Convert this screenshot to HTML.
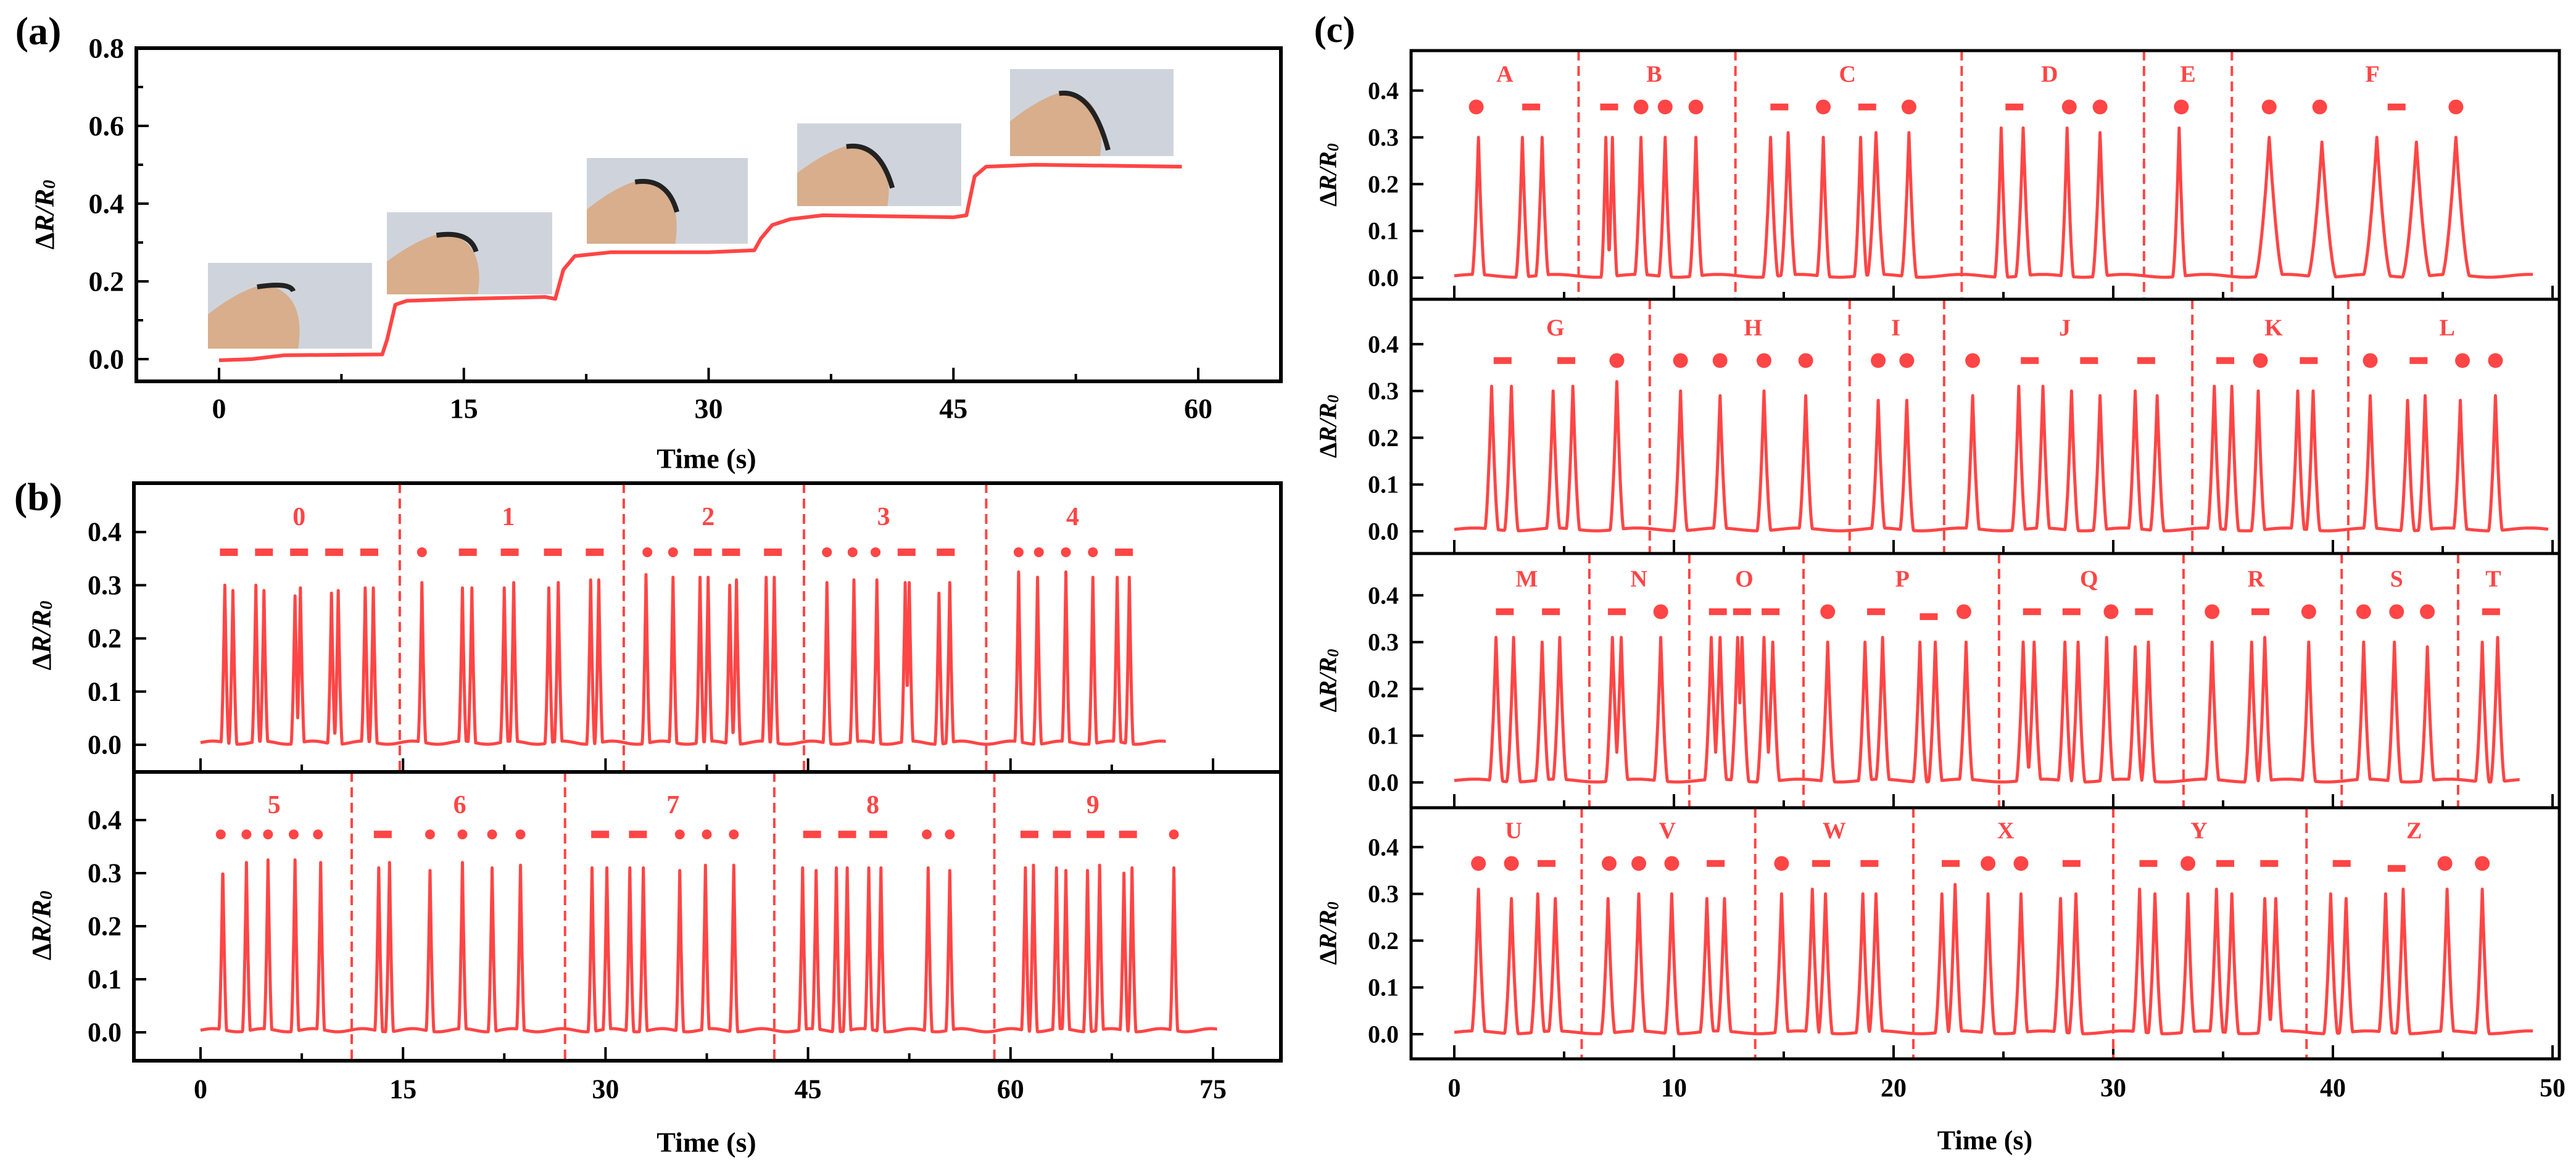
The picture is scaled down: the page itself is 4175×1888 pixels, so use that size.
<!DOCTYPE html>
<html><head><meta charset="utf-8">
<style>
html,body{margin:0;padding:0;background:#fff;}
svg{display:block;font-family:"Liberation Serif",serif;font-weight:bold;}
</style></head>
<body>
<svg id="fig" width="4175" height="1888" viewBox="0 0 4175 1888" xmlns="http://www.w3.org/2000/svg"></svg>
<script>
// ---------- Panel (a) data ----------
const aTimes = [0,2,4,10,10.3,10.8,11.5,15,20,20.6,21.1,21.8,24,30,32.8,33.2,33.9,35,37,45,45.8,46.3,47,50,59];
const aValues = [-0.003,0,0.01,0.012,0.05,0.14,0.15,0.155,0.16,0.155,0.23,0.265,0.275,0.275,0.28,0.31,0.345,0.36,0.37,0.365,0.37,0.47,0.495,0.5,0.495];
const aXTicks = [0,15,30,45,60];
const aYTicks = [0.0,0.2,0.4,0.6,0.8];

// ---------- Panel (b) data ----------
const bTopPeakTimes = [1.8,2.4,4.1,4.7,7.0,7.4,9.7,10.2,12.2,12.8,16.4,19.4,20.1,22.5,23.2,25.8,26.5,28.9,29.5,33.0,35.0,37.0,37.6,39.2,39.7,41.9,42.5,46.4,48.4,50.1,52.2,52.5,54.7,55.5,60.6,62.0,64.1,66.1,67.9,68.8];
const bTopPeakHeights = [0.30,0.29,0.30,0.29,0.28,0.295,0.285,0.29,0.295,0.295,0.305,0.295,0.295,0.295,0.305,0.295,0.305,0.31,0.31,0.32,0.315,0.315,0.315,0.30,0.31,0.315,0.315,0.305,0.31,0.31,0.305,0.305,0.285,0.305,0.325,0.315,0.325,0.315,0.315,0.315];
const bTopEnd = 71.5;
const bTopDividers = [14.76,31.35,44.7,58.2];
const bTopMarkTimes = [2.1,4.7,7.3,9.9,12.5,16.4,19.8,22.9,26.1,29.2,33.1,35.0,37.2,39.3,42.4,46.4,48.3,50.0,52.3,55.2,60.6,62.1,64.1,66.1,68.4];
const bTopMarkTypes = ['-','-','-','-','-','.','-','-','-','-','.','.','-','-','-','.','.','.','-','-','.','.','.','.','-'];
const bTopLabels = ['0','1','2','3','4'];
const bTopLabelTimes = [7.3,22.8,37.6,50.6,64.6];

const bBotPeakTimes = [1.65,3.4,5.0,7.0,8.9,13.2,14.0,17.0,19.4,21.6,23.7,29.0,30.1,31.8,32.8,35.5,37.4,39.5,44.6,45.6,47.1,47.9,49.5,50.4,53.9,55.5,61.1,61.7,63.4,64.1,65.7,66.6,68.4,69.0,72.1];
const bBotPeakHeights = [0.315,0.32,0.325,0.325,0.32,0.31,0.32,0.305,0.32,0.31,0.315,0.31,0.31,0.31,0.31,0.305,0.315,0.315,0.31,0.305,0.31,0.31,0.31,0.31,0.31,0.305,0.31,0.315,0.31,0.305,0.305,0.315,0.30,0.31,0.31];
const bBotEnd = 75.3;
const bBotDividers = [11.2,27.0,42.5,58.8];
const bBotMarkTimes = [1.5,3.4,5.0,6.9,8.7,13.5,17.0,19.4,21.6,23.7,29.6,32.4,35.5,37.5,39.5,45.3,47.9,50.2,53.8,55.5,61.4,63.8,66.3,68.7,72.1];
const bBotMarkTypes = ['.','.','.','.','.','-','.','.','.','.','-','-','.','.','.','-','-','-','.','.','-','-','-','-','.'];
const bBotLabels = ['5','6','7','8','9'];
const bBotLabelTimes = [5.45,19.2,35.0,49.8,66.1];
const bXTicks = [0,15,30,45,60,75];
const bYTicks = [0.0,0.1,0.2,0.3,0.4];

// ---------- Panel (c) data ----------
const c1PeakTimes = [1.1,3.1,4.0,6.9,7.2,8.5,9.6,11.0,14.4,15.2,16.8,18.5,19.2,20.7,24.9,25.9,27.9,29.4,33.0,37.1,39.5,42.0,43.8,45.6];
const c1PeakHeights = [0.30,0.30,0.30,0.30,0.30,0.30,0.30,0.30,0.30,0.31,0.30,0.30,0.31,0.31,0.32,0.32,0.32,0.31,0.32,0.30,0.29,0.30,0.29,0.30];
const c1PeakWidths = [0.3,0.3,0.3,0.22,0.22,0.3,0.3,0.3,0.35,0.35,0.3,0.3,0.4,0.35,0.3,0.35,0.3,0.35,0.3,0.65,0.65,0.65,0.65,0.65];
const c1End = 49.1;
const c1Dividers = [5.66,12.8,23.1,31.4,35.4];
const c1MarkTimes = [1.0,3.5,7.05,8.5,9.6,11.0,14.8,16.8,18.8,20.7,25.5,28.0,29.4,33.1,37.1,39.4,42.9,45.6];
const c1MarkTypes = ['.','-','-','.','.','.','-','.','-','.','-','.','.','.','.','.','-','.'];
const c1Labels = ['A','B','C','D','E','F'];
const c1LabelTimes = [2.3,9.1,17.9,27.1,33.4,41.8];

const c2PeakTimes = [1.7,2.6,4.5,5.4,7.4,10.3,12.1,14.1,16.0,19.3,20.6,23.6,25.7,26.8,28.1,29.4,31.0,32.0,34.6,35.4,36.6,38.4,39.1,41.7,43.4,44.2,45.8,47.4];
const c2PeakHeights = [0.31,0.31,0.30,0.31,0.32,0.30,0.29,0.30,0.29,0.28,0.28,0.29,0.31,0.31,0.30,0.29,0.30,0.29,0.31,0.31,0.30,0.30,0.30,0.29,0.28,0.29,0.28,0.29];
const c2End = 49.8;
const c2Dividers = [8.9,18.0,22.3,33.6,40.7];
const c2MarkTimes = [2.2,5.1,7.4,10.3,12.1,14.1,16.0,19.3,20.6,23.6,26.2,28.9,31.5,35.1,36.7,38.9,41.7,43.9,45.9,47.4];
const c2MarkTypes = ['-','-','.','.','.','.','.','.','.','.','-','-','-','-','.','-','.','-','.','.'];
const c2Labels = ['G','H','I','J','K','L'];
const c2LabelTimes = [4.6,13.6,20.1,27.8,37.3,45.2];

const c3PeakTimes = [1.9,2.7,4.0,4.8,7.2,7.6,9.4,11.7,12.1,12.9,13.1,14.1,14.5,17.0,18.7,19.5,21.2,21.9,23.3,25.9,26.4,27.8,28.4,29.7,31.0,31.6,34.5,36.3,36.9,38.9,41.4,42.8,44.3,46.8,47.5];
const c3PeakHeights = [0.31,0.31,0.30,0.31,0.31,0.31,0.31,0.31,0.31,0.31,0.31,0.31,0.30,0.30,0.30,0.31,0.30,0.30,0.30,0.30,0.30,0.30,0.30,0.31,0.29,0.30,0.30,0.30,0.31,0.30,0.30,0.30,0.29,0.30,0.31];
const c3End = 48.5;
const c3Dividers = [6.15,10.7,15.9,24.8,33.2,40.4,45.7];
const c3MarkTimes = [2.3,4.4,7.4,9.4,12.0,13.1,14.4,17.0,19.2,21.6,23.2,26.3,28.1,29.9,31.4,34.5,36.7,38.9,41.4,42.9,44.3,47.2];
const c3MarkTypes = ['-','-','-','.','-','-','-','.','-','_','.','-','-','.','-','.','-','.','.','.','.','-'];
const c3Labels = ['M','N','O','P','Q','R','S','T'];
const c3LabelTimes = [3.3,8.4,13.2,20.4,28.9,36.5,42.9,47.3];

const c4PeakTimes = [1.1,2.6,3.8,4.6,7.0,8.4,9.9,11.5,12.3,14.9,16.3,16.9,18.6,19.2,22.2,22.8,24.3,25.8,27.6,28.3,31.2,31.9,33.4,34.7,35.4,36.9,37.4,39.9,40.6,42.4,43.2,45.2,46.8];
const c4PeakHeights = [0.31,0.29,0.30,0.29,0.29,0.30,0.30,0.29,0.29,0.30,0.31,0.30,0.30,0.30,0.30,0.32,0.30,0.30,0.29,0.30,0.31,0.30,0.30,0.31,0.30,0.29,0.29,0.30,0.29,0.30,0.31,0.31,0.31];
const c4End = 49.1;
const c4Dividers = [5.8,13.7,20.9,30.0,38.8];
const c4MarkTimes = [1.1,2.6,4.2,7.05,8.4,9.9,11.9,14.9,16.7,18.9,22.6,24.3,25.8,28.1,31.6,33.4,35.1,37.1,40.4,42.9,45.1,46.8];
const c4MarkTypes = ['.','.','-','.','.','.','-','.','-','-','-','.','.','-','-','.','-','-','-','_','.','.'];
const c4Labels = ['U','V','W','X','Y','Z'];
const c4LabelTimes = [2.7,9.7,17.3,25.1,33.9,43.7];
const cXTicks = [0,10,20,30,40,50];
const cYTicks = [0.0,0.1,0.2,0.3,0.4];

// ---------- drawing ----------
const NS = 'http://www.w3.org/2000/svg';
const svg = document.getElementById('fig');
const RED = '#ff4545';
function mk(tag, attrs, parent){
  const e = document.createElementNS(NS, tag);
  for (const k in attrs) e.setAttribute(k, attrs[k]);
  (parent||svg).appendChild(e);
  return e;
}
function txt(x,y,s,size,parent,extra){
  const t = mk('text',Object.assign({x:x,y:y,'font-size':size,'text-anchor':'middle','dominant-baseline':'central'},extra||{}),parent);
  t.textContent = s;
  return t;
}
function yTitle(x,y,size){
  const g = mk('g',{});
  
  
  const t = mk('text',{x:0,y:0,'font-size':size,'text-anchor':'middle','dominant-baseline':'central',transform:`translate(${x},${y}) rotate(-90)`,'font-style':'italic'},g);
  t.innerHTML = '<tspan font-style="normal">Δ</tspan>R/R<tspan font-size="'+(size*0.65)+'" dy="8">0</tspan>';
}
function signal(times, heights, widths, wdef, end){
  const pts=[];
  for(let t=0;t<=end+1e-9;t+=0.02){
    let v=0.004+0.003*Math.sin(t*1.7);
    for(let i=0;i<times.length;i++){
      const w = widths?widths[i]:wdef;
      const d=Math.abs(t-times[i])/w;
      if(d<1){ const p=heights[i]*Math.pow(1-d,1.6); if(p>v) v=p; }
    }
    pts.push([t,v]);
  }
  return pts;
}
function subplot(o){
  const g = mk('g',{});
  
  
  const X = t=>o.xz+o.xs*t, Y = v=>o.yz-o.ys*v;
  o.xTicks.forEach((t,i)=>{
    const l=mk('line',{x1:X(t),x2:X(t),y1:o.y1,y2:o.y1-22,stroke:'#000','stroke-width':4},g);
    
    
    if(i<o.xTicks.length-1){const tm=(t+o.xTicks[i+1])/2;
      mk('line',{x1:X(tm),x2:X(tm),y1:o.y1,y2:o.y1-12,stroke:'#000','stroke-width':4},g);}
  });
  o.yTicks.forEach((v,i)=>{
    mk('line',{x1:o.x0,x2:o.x0+20,y1:Y(v),y2:Y(v),stroke:'#000','stroke-width':4},g);
    const t=txt(o.x0-20,Y(v),v.toFixed(1),o.tickSize,g,{'text-anchor':'end'});
    
    
    if(o.yMinor && i<o.yTicks.length-1){const vm=(v+o.yTicks[i+1])/2;
      mk('line',{x1:o.x0,x2:o.x0+11,y1:Y(vm),y2:Y(vm),stroke:'#000','stroke-width':4},g);}
  });
  (o.dividers||[]).forEach(t=>{
    const d=mk('line',{x1:X(t),x2:X(t),y1:o.y0,y2:o.y1,stroke:RED,'stroke-width':4,'stroke-dasharray':'16,9'},g);
    
    
  });
  const pts=o.points.map(p=>X(p[0]).toFixed(1)+','+Y(p[1]).toFixed(1)).join(' ');
  const pl=mk('polyline',{points:pts,fill:'none',stroke:RED,'stroke-width':o.lw||5.5,'stroke-linejoin':'round'},g);
  
  
  (o.markTimes||[]).forEach((t,i)=>{
    const ty=o.markTypes[i]; let m;
    if(ty==='.') m=mk('circle',{cx:X(t),cy:Y(o.markY),r:o.dotR,fill:RED},g);
    else { const yy = ty==='_'? Y(o.markY)+8 : Y(o.markY);
      m=mk('rect',{x:X(t)-o.dashW/2,y:yy-o.dashH/2,width:o.dashW,height:o.dashH,fill:RED},g);}
    
    
  });
  (o.labels||[]).forEach((s,i)=>{
    const t=txt(X(o.labelTimes[i]),Y(o.labelY),s,o.labelSize,g,{fill:RED});
    
    
  });
  const f=mk('rect',{x:o.x0,y:o.y0,width:o.x1-o.x0,height:o.y1-o.y0,fill:'none',stroke:'#000','stroke-width':o.frameW||5},g);
  
  
  return {X,Y};
}
function xLabels(ticks,X,y,size,name){
  ticks.forEach(t=>{
    const e=txt(X(t),y,String(t),size);
    
    
  });
}

const photoBoxes=[[337,426,266,139],[627,344,268,133],[951,256,261,139],[1292,200,266,134],[1637,112,265,141]];
photoBoxes.forEach((b,i)=>{
  const g=mk('g',{});
  
  
  mk('rect',{x:b[0],y:b[1],width:b[2],height:b[3],fill:'#cfd4dc'},g);
  mk('path',{d:`M${b[0]} ${b[1]+b[3]} L${b[0]} ${b[1]+b[3]*0.6} Q${b[0]+b[2]*0.2} ${b[1]+b[3]*0.3} ${b[0]+b[2]*0.35} ${b[1]+b[3]*0.25} Q${b[0]+b[2]*0.6} ${b[1]+b[3]*0.35} ${b[0]+b[2]*0.55} ${b[1]+b[3]} Z`,fill:'#d8ae8c'},g);
  mk('path',{d:`M${b[0]+b[2]*0.3} ${b[1]+b[3]*0.28} q${b[2]*0.2} -8 ${b[2]*(0.22+i*0.02)} ${b[3]*(0.05+i*0.15)}`,stroke:'#222','stroke-width':8,fill:'none'},g);
});
const A=subplot({name:'panel-a-plot',x0:221,x1:2076,y0:78,y1:618,xz:355,xs:26.45,yz:582,ys:630,
  xTicks:aXTicks,yTicks:aYTicks,yMinor:true,tickSize:46,points:aTimes.map((t,i)=>[t,aValues[i]]),lw:6,frameW:6});
xLabels(aXTicks,A.X,662,46,'x-tick-label');
txt(1145,743,'Time (s)',46);
yTitle(72,348,44);
txt(62,50,'(a)',64);

const bCommon={x0:217,x1:2076,xz:325,xs:21.88,xTicks:bXTicks,yTicks:bYTicks,tickSize:44,dotR:8,dashW:29,dashH:12,labelSize:42,frameW:6,lw:5};
const BT=subplot(Object.assign({},bCommon,{name:'panel-b-top',y0:783,y1:1251,yz:1207,ys:862,
  points:signal(bTopPeakTimes,bTopPeakHeights,null,0.3,bTopEnd),dividers:bTopDividers,
  markTimes:bTopMarkTimes,markTypes:bTopMarkTypes,markY:0.362,labels:bTopLabels,labelTimes:bTopLabelTimes,labelY:0.428}));
const BB=subplot(Object.assign({},bCommon,{name:'panel-b-bottom',y0:1251,y1:1719,yz:1673,ys:860,
  points:signal(bBotPeakTimes,bBotPeakHeights,null,0.3,bBotEnd),dividers:bBotDividers,
  markTimes:bBotMarkTimes,markTypes:bBotMarkTypes,markY:0.373,labels:bBotLabels,labelTimes:bBotLabelTimes,labelY:0.428}));
xLabels(bXTicks,BB.X,1765,44,'x-tick-label');
txt(1145,1851,'Time (s)',46);
yTitle(67,1030,44); yTitle(67,1500,44);
txt(62,805,'(b)',64);

const cCommon={x0:2287,x1:4148,xz:2357,xs:35.6,xTicks:cXTicks,yTicks:cYTicks,tickSize:40,dotR:12,dashW:29,dashH:11,labelSize:38,frameW:5,lw:5};
const cRows=[
  {y0:82,y1:485,yz:450,pt:c1PeakTimes,ph:c1PeakHeights,pw:c1PeakWidths,end:c1End,dv:c1Dividers,mt:c1MarkTimes,my:c1MarkTypes,lb:c1Labels,lt:c1LabelTimes},
  {y0:485,y1:897,yz:861,pt:c2PeakTimes,ph:c2PeakHeights,pw:null,end:c2End,dv:c2Dividers,mt:c2MarkTimes,my:c2MarkTypes,lb:c2Labels,lt:c2LabelTimes},
  {y0:897,y1:1309,yz:1268,pt:c3PeakTimes,ph:c3PeakHeights,pw:null,end:c3End,dv:c3Dividers,mt:c3MarkTimes,my:c3MarkTypes,lb:c3Labels,lt:c3LabelTimes},
  {y0:1309,y1:1716,yz:1676,pt:c4PeakTimes,ph:c4PeakHeights,pw:null,end:c4End,dv:c4Dividers,mt:c4MarkTimes,my:c4MarkTypes,lb:c4Labels,lt:c4LabelTimes}];
let CX;
cRows.forEach((r,i)=>{
  const s=subplot(Object.assign({},cCommon,{name:'panel-c-row-'+(i+1),y0:r.y0,y1:r.y1,yz:r.yz,ys:758,
    points:signal(r.pt,r.ph,r.pw,0.32,r.end),dividers:r.dv,markTimes:r.mt,markTypes:r.my,markY:0.365,
    labels:r.lb,labelTimes:r.lt,labelY:0.435}));
  CX=s.X;
  yTitle(2152,(r.y0+r.y1)/2,40);
});
xLabels(cXTicks,CX,1764,42,'x-tick-label');
txt(3217,1848,'Time (s)',44);
txt(2163,48,'(c)',60);
</script>
</body></html>
